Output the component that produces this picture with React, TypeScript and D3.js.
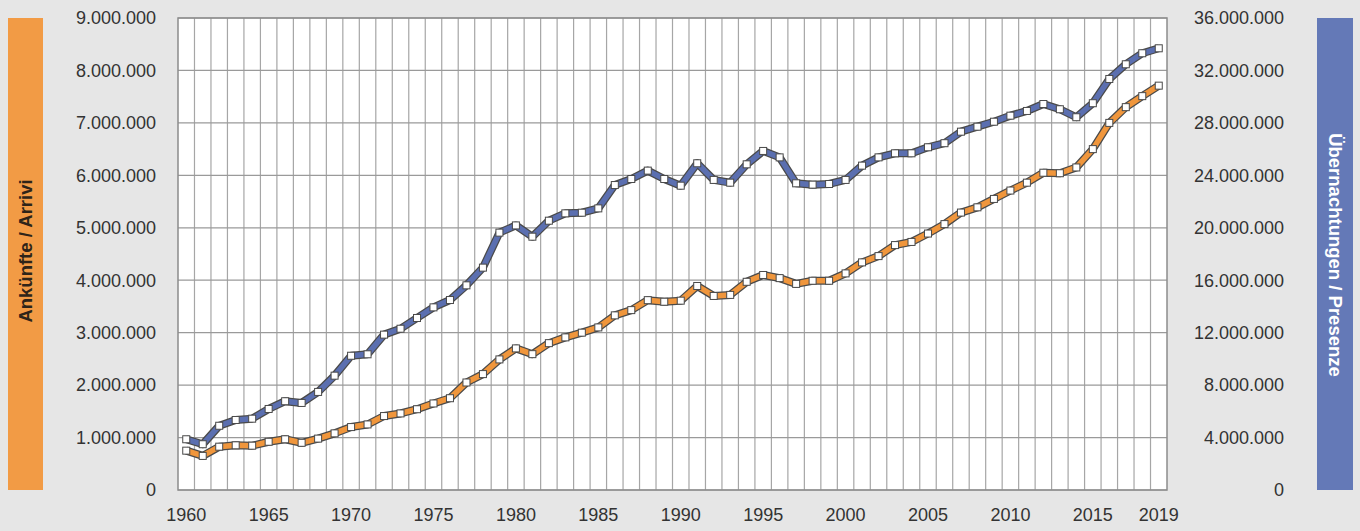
import * as d3 from "d3";
import { useEffect, useRef } from "react";

// years shown on the category axis
const years: number[] = d3.range(1960, 2020);
const yearTicks = [1960, 1965, 1970, 1975, 1980, 1985, 1990, 1995, 2000, 2005, 2010, 2015, 2019];

// Ankünfte / Arrivi (left axis)
const arrivals = [
  750000, 650000, 826000, 852000, 845000, 920000, 967000, 900000, 980000, 1080000,
  1200000, 1250000, 1410000, 1460000, 1540000, 1650000, 1750000, 2050000, 2210000, 2490000,
  2700000, 2590000, 2800000, 2910000, 3000000, 3100000, 3330000, 3430000, 3620000, 3590000,
  3610000, 3890000, 3700000, 3720000, 3970000, 4100000, 4040000, 3930000, 3990000, 3990000,
  4130000, 4340000, 4460000, 4670000, 4730000, 4890000, 5070000, 5290000, 5390000, 5550000,
  5710000, 5860000, 6050000, 6040000, 6150000, 6500000, 7000000, 7300000, 7510000, 7710000,
];

// Übernachtungen / Presenze (right axis)
const overnights = [
  3870000, 3490000, 4900000, 5340000, 5440000, 6180000, 6770000, 6640000, 7480000, 8720000,
  10240000, 10350000, 11850000, 12300000, 13120000, 13930000, 14490000, 15610000, 16960000, 19630000,
  20180000, 19320000, 20540000, 21100000, 21150000, 21480000, 23260000, 23720000, 24360000, 23720000,
  23210000, 24920000, 23650000, 23440000, 24840000, 25860000, 25370000, 23390000, 23290000, 23340000,
  23650000, 24740000, 25370000, 25680000, 25680000, 26140000, 26450000, 27330000, 27710000, 28090000,
  28550000, 28910000, 29440000, 29040000, 28430000, 29500000, 31350000, 32470000, 33310000, 33690000,
];

const leftTicks = d3.range(0, 9000001, 1000000);
const rightTicks = d3.range(0, 36000001, 4000000);

const leftTitle = "Ankünfte / Arrivi";
const rightTitle = "Übernachtungen / Presenze";

export default function App() {
  const ref = useRef<SVGSVGElement>(null);

  useEffect(() => {
    const svg = d3.select(ref.current);
    svg.selectAll("*").remove();

    const W = 1360, H = 531;
    const plot = { left: 178, right: 1167, top: 18, bottom: 490 };
    const font = "'Liberation Sans', Arial, sans-serif";
    const fmt = d3.formatLocale({ decimal: ",", thousands: ".", grouping: [3], currency: ["", " €"] }).format(",d");

    const x = d3.scaleBand<number>().domain(years).range([plot.left, plot.right]);
    const yL = d3.scaleLinear().domain([0, 9000000]).range([plot.bottom, plot.top]);
    const yR = d3.scaleLinear().domain([0, 36000000]).range([plot.bottom, plot.top]);

    svg.append("rect").attr("width", W).attr("height", H).attr("fill", "#e6e6e6");

    // side bars
    svg.append("rect").attr("x", 8).attr("y", plot.top).attr("width", 35).attr("height", plot.bottom - plot.top).attr("fill", "#f29b45");
    svg.append("rect").attr("x", 1317).attr("y", plot.top).attr("width", 36).attr("height", plot.bottom - plot.top).attr("fill", "#6479b7");

    svg.append("text")
      .attr("transform", `translate(26,${(plot.top + plot.bottom) / 2 - 3}) rotate(-90)`)
      .attr("text-anchor", "middle").attr("dy", "0.35em")
      .style("font-family", font).style("font-size", "18.5px").style("font-weight", "bold")
      .attr("fill", "#2e2419").text(leftTitle);

    svg.append("text")
      .attr("transform", `translate(1335,${(plot.top + plot.bottom) / 2 + 1}) rotate(90)`)
      .attr("text-anchor", "middle").attr("dy", "0.35em")
      .style("font-family", font).style("font-size", "18.5px").style("font-weight", "bold")
      .attr("fill", "#ffffff").text(rightTitle);

    // plot area
    svg.append("rect")
      .attr("x", plot.left).attr("y", plot.top)
      .attr("width", plot.right - plot.left).attr("height", plot.bottom - plot.top)
      .attr("fill", "#ffffff");

    const grid = svg.append("g");
    grid.selectAll("line.v")
      .data(years.slice(1))
      .enter().append("line")
      .attr("x1", (d) => x(d)!).attr("x2", (d) => x(d)!)
      .attr("y1", plot.top).attr("y2", plot.bottom)
      .attr("stroke", "#a6a6a6").attr("stroke-width", 1.2);
    grid.selectAll("line.h")
      .data(leftTicks)
      .enter().append("line")
      .attr("x1", plot.left).attr("x2", plot.right)
      .attr("y1", (d) => yL(d)).attr("y2", (d) => yL(d))
      .attr("stroke", "#9a9a9a").attr("stroke-width", 1.2);
    svg.append("rect")
      .attr("x", plot.left).attr("y", plot.top)
      .attr("width", plot.right - plot.left).attr("height", plot.bottom - plot.top)
      .attr("fill", "none").attr("stroke", "#8c8c8c").attr("stroke-width", 1.5);

    // axis labels
    svg.append("g").selectAll("text")
      .data(leftTicks).enter().append("text")
      .attr("x", 156).attr("y", (d) => yL(d)).attr("dy", "0.35em")
      .attr("text-anchor", "end").attr("fill", "#333")
      .style("font-family", font).style("font-size", "18px")
      .text((d) => fmt(d));

    svg.append("g").selectAll("text")
      .data(rightTicks).enter().append("text")
      .attr("x", 1284).attr("y", (d) => yR(d)).attr("dy", "0.35em")
      .attr("text-anchor", "end").attr("fill", "#333")
      .style("font-family", font).style("font-size", "18px")
      .text((d) => fmt(d));

    svg.append("g").selectAll("text")
      .data(yearTicks).enter().append("text")
      .attr("x", (d) => x(d)! + x.bandwidth() / 2).attr("y", 521)
      .attr("text-anchor", "middle").attr("fill", "#333")
      .style("font-family", font).style("font-size", "18px")
      .text((d) => d);

    // series
    const series = [
      { values: arrivals, y: yL, color: "#f0963c" },
      { values: overnights, y: yR, color: "#5b6fb0" },
    ];
    series.forEach((s) => {
      const line = d3.line<number>()
        .x((d, i) => x(years[i])! + x.bandwidth() / 2)
        .y((d) => s.y(d));
      const g = svg.append("g");
      g.append("path").attr("d", line(s.values)).attr("fill", "none")
        .attr("stroke", "#4a4a4a").attr("stroke-width", 8).attr("stroke-linejoin", "round");
      g.append("path").attr("d", line(s.values)).attr("fill", "none")
        .attr("stroke", s.color).attr("stroke-width", 5.5).attr("stroke-linejoin", "round");
      g.selectAll("rect")
        .data(s.values).enter().append("rect")
        .attr("x", (d, i) => x(years[i])! + x.bandwidth() / 2 - 3.5)
        .attr("y", (d) => s.y(d) - 3.5)
        .attr("width", 7).attr("height", 7)
        .attr("fill", "#ffffff").attr("stroke", "#4a4a4a").attr("stroke-width", 1);
    });
  }, []);

  return (
    <svg ref={ref} width={1360} height={531}
      style={{ position: "absolute", left: 0, top: 0, display: "block" }} />
  );
}
